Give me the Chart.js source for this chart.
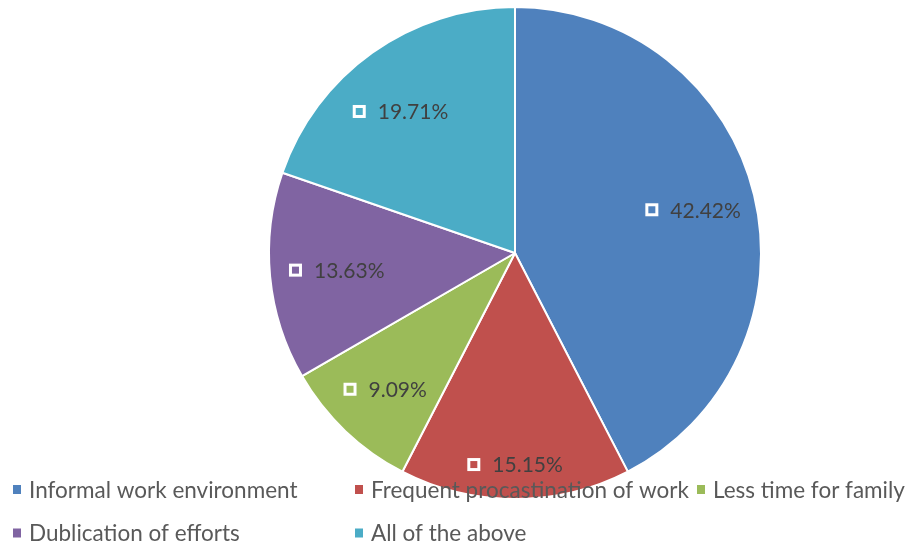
<!DOCTYPE html>
<html>
<head>
<meta charset="utf-8">
<script src="https://cdn.jsdelivr.net/npm/chart.js@4"></script>
<style>
  html, body { margin: 0; padding: 0; background: #fff; }
  #wrap { width: 905px; height: 548px; position: relative; }
</style>
</head>
<body>
<div id="wrap"><canvas id="pie"></canvas></div>
<script>
const categories = ['Informal work environment', 'Frequent procastination of work', 'Less time for family', 'Dublication of efforts', 'All of the above'];
const shares = [42.42, 15.15, 9.09, 13.63, 19.71];
const colors = ['#4F81BD', '#C0504D', '#9BBB59', '#8064A2', '#4BACC6'];

const FONT = 'Lato, "Open Sans", sans-serif';

// "best fit" label placement: fraction of radius and small angle nudge (deg) per slice
const labelRadius = [0.745, 0.86, 0.765, 0.728, 0.74];
const labelNudge = [0, 0, 0, 0, -3.5];

const sliceLabels = {
    id: 'sliceLabels',
    afterDatasetsDraw(chart) {
        const ctx = chart.ctx;
        const meta = chart.getDatasetMeta(0);
        ctx.save();
        ctx.font = '21px ' + FONT;
        ctx.textBaseline = 'middle';
        meta.data.forEach((arc, i) => {
            const p = arc.getProps(['x', 'y', 'startAngle', 'endAngle', 'outerRadius'], true);
            const mid = (p.startAngle + p.endAngle) / 2 + labelNudge[i] * Math.PI / 180;
            const r = p.outerRadius * labelRadius[i];
            const cx = p.x + Math.cos(mid) * r;
            const cy = p.y + Math.sin(mid) * r;
            const txt = shares[i].toFixed(2) + '%';
            const tw = ctx.measureText(txt).width;
            const box = 13, gap = 12;
            const x0 = cx - (box + gap + tw) / 2;
            ctx.fillStyle = '#ffffff';
            ctx.fillRect(x0, cy - box / 2, box, box);
            ctx.fillStyle = colors[i];
            ctx.fillRect(x0 + 3, cy - box / 2 + 3, box - 6, box - 6);
            ctx.fillStyle = '#404040';
            ctx.textAlign = 'left';
            ctx.fillText(txt, x0 + box + gap, cy + 1);
        });
        ctx.restore();
    }
};

// legend drawn over the bottom of the pie, three columns
const bottomLegend = {
    id: 'bottomLegend',
    afterDraw(chart) {
        const ctx = chart.ctx;
        ctx.save();
        ctx.font = '22.5px ' + FONT;
        ctx.textBaseline = 'middle';
        ctx.textAlign = 'left';
        const cols = [13, 355, 697];
        const rows = [489.5, 533];
        chart.data.labels.forEach((lab, i) => {
            const x = cols[i % 3];
            const y = rows[Math.floor(i / 3)];
            ctx.fillStyle = colors[i];
            ctx.fillRect(x, y - 4.5, 8, 9);
            ctx.fillStyle = '#595959';
            ctx.fillText(lab, x + 16, y + 1);
        });
        ctx.restore();
    }
};

new Chart(document.getElementById('pie'), {
    type: 'pie',
    data: {
        labels: categories,
        datasets: [{
            data: shares,
            backgroundColor: colors,
            borderColor: '#ffffff',
            borderWidth: 2
        }]
    },
    options: {
        responsive: true,
        maintainAspectRatio: false,
        animation: false,
        layout: { padding: { left: 268, right: 143, top: 6, bottom: 48 } },
        plugins: {
            legend: { display: false },
            tooltip: { enabled: false }
        }
    },
    plugins: [sliceLabels, bottomLegend]
});
</script>
</body>
</html>
